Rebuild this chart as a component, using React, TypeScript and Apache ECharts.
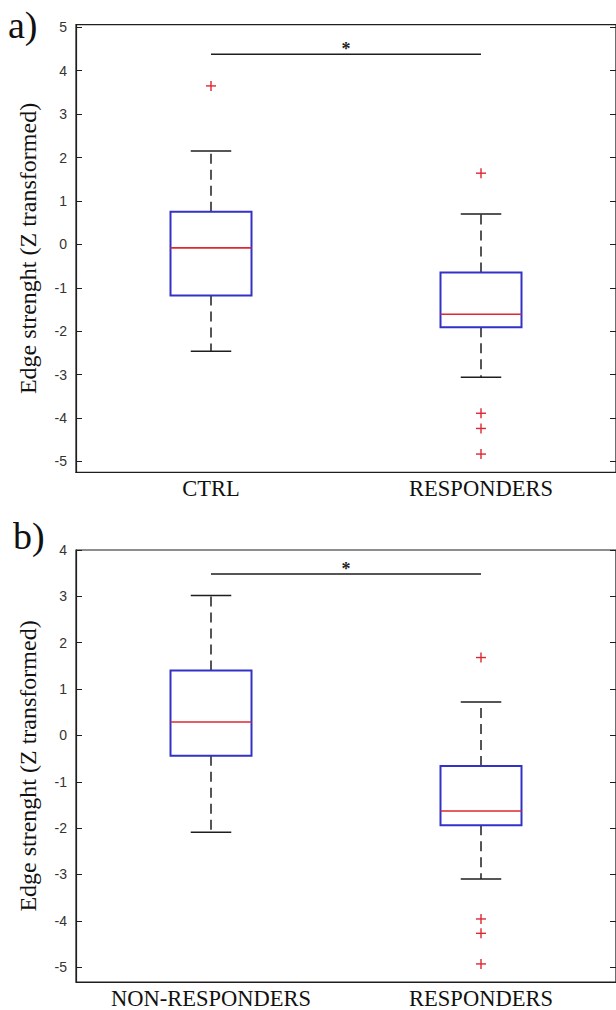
import React, { useEffect, useRef } from "react";
import * as echarts from "echarts";

// ---- data ----
const catsA = ["CTRL", "RESPONDERS"];
const catsB = ["NON-RESPONDERS", "RESPONDERS"];
// [categoryIndex, lowerWhisker, Q1, median, Q3, upperWhisker]
const boxA = [
  [0, -2.46, -1.18, -0.08, 0.75, 2.15],
  [1, -3.06, -1.91, -1.61, -0.65, 0.7],
];
const boxB = [
  [0, -2.09, -0.44, 0.29, 1.4, 3.02],
  [1, -3.1, -1.94, -1.63, -0.66, 0.72],
];
// [categoryIndex, value]
const outA = [
  [0, 3.65],
  [1, 1.64],
  [1, -3.89],
  [1, -4.24],
  [1, -4.83],
];
const outB = [
  [1, 1.68],
  [1, -3.96],
  [1, -4.27],
  [1, -4.93],
];
// significance bar [fromIndex, toIndex, y]
const sigA = [[0, 1, 4.38]];
const sigB = [[0, 1, 3.48]];
const ticksA = [-5, -4, -3, -2, -1, 0, 1, 2, 3, 4, 5];
const ticksB = [-5, -4, -3, -2, -1, 0, 1, 2, 3, 4];
const yLabel = "Edge strenght (Z transformed)";

const BLUE = "#3232c8";
const RED = "#dc2832";
const DARK = "#1e1e1e";
const SERIF = "'Liberation Serif', 'Times New Roman', serif";
const SANS = "'Liberation Sans', Arial, sans-serif";

const boxRender = (params: any, api: any) => {
  const i = api.value(0);
  const lo = api.value(1);
  const q1 = api.value(2);
  const med = api.value(3);
  const q3 = api.value(4);
  const hi = api.value(5);
  const band = api.size([1, 0])[0];
  const bw = band * 0.3;
  const cw = bw * 0.5;
  const x = api.coord([i, med])[0];
  const yLo = api.coord([i, lo])[1];
  const yQ1 = api.coord([i, q1])[1];
  const yMed = api.coord([i, med])[1];
  const yQ3 = api.coord([i, q3])[1];
  const yHi = api.coord([i, hi])[1];
  const dash = { stroke: DARK, lineWidth: 1.5, lineDash: [10, 6] };
  const solid = { stroke: DARK, lineWidth: 1.5 };
  return {
    type: "group",
    children: [
      { type: "line", shape: { x1: x, y1: yQ3, x2: x, y2: yHi }, style: dash },
      { type: "line", shape: { x1: x, y1: yQ1, x2: x, y2: yLo }, style: dash },
      { type: "line", shape: { x1: x - cw / 2, y1: yHi, x2: x + cw / 2, y2: yHi }, style: solid },
      { type: "line", shape: { x1: x - cw / 2, y1: yLo, x2: x + cw / 2, y2: yLo }, style: solid },
      {
        type: "rect",
        shape: { x: x - bw / 2, y: yQ3, width: bw, height: yQ1 - yQ3 },
        style: { fill: "none", stroke: BLUE, lineWidth: 2 },
      },
      {
        type: "line",
        shape: { x1: x - bw / 2, y1: yMed, x2: x + bw / 2, y2: yMed },
        style: { stroke: RED, lineWidth: 1.6 },
      },
    ],
  };
};

const outRender = (params: any, api: any) => {
  const p = api.coord([api.value(0), api.value(1)]);
  const s = 5;
  const st = { stroke: RED, lineWidth: 1.4 };
  return {
    type: "group",
    children: [
      { type: "line", shape: { x1: p[0] - s, y1: p[1], x2: p[0] + s, y2: p[1] }, style: st },
      { type: "line", shape: { x1: p[0], y1: p[1] - s, x2: p[0], y2: p[1] + s }, style: st },
    ],
  };
};

const sigRender = (params: any, api: any) => {
  const y = api.value(2);
  const p1 = api.coord([api.value(0), y]);
  const p2 = api.coord([api.value(1), y]);
  return {
    type: "group",
    children: [
      {
        type: "line",
        shape: { x1: p1[0], y1: p1[1], x2: p2[0], y2: p2[1] },
        style: { stroke: DARK, lineWidth: 1.5 },
      },
      {
        type: "text",
        x: (p1[0] + p2[0]) / 2,
        y: p1[1] - 5,
        style: {
          text: "*",
          fontFamily: SERIF,
          fontSize: 18,
          fontWeight: "bold",
          fill: DARK,
          align: "center",
          verticalAlign: "middle",
        },
      },
    ],
  };
};

const makeX = (gi: number, data: string[]) => ({
  type: "category",
  gridIndex: gi,
  data,
  boundaryGap: true,
  axisTick: { show: false },
  axisLine: { show: true, onZero: false, lineStyle: { color: DARK, width: 1.2 } },
  axisLabel: { fontFamily: SERIF, fontSize: 22.5, color: "#111", margin: 5 },
  splitLine: { show: false },
});

const makeY = (gi: number, min: number, max: number, ticks: number[], right: boolean) => ({
  type: "value",
  gridIndex: gi,
  position: right ? "right" : "left",
  min,
  max,
  name: right ? "" : yLabel,
  nameLocation: "middle",
  nameGap: 36,
  nameTextStyle: { fontFamily: SERIF, fontSize: 24, color: "#111" },
  axisLine: { show: true, onZero: false, lineStyle: { color: DARK, width: 1.2 } },
  axisTick: { show: true, inside: true, length: 6, customValues: ticks, lineStyle: { color: DARK } },
  axisLabel: right
    ? { show: false }
    : { show: true, customValues: ticks, fontFamily: SANS, fontSize: 14, color: "#333", margin: 9 },
  splitLine: { show: false },
});

export default function App() {
  const ref = useRef<HTMLDivElement>(null);
  useEffect(() => {
    if (!ref.current) return;
    const chart = echarts.init(ref.current, null, { renderer: "svg" });
    const option: any = {
      animation: false,
      backgroundColor: "#ffffff",
      grid: [
        { left: 76, width: 542, top: 24.7, bottom: 537.7, show: true, borderColor: DARK, borderWidth: 1.2, backgroundColor: "transparent" },
        { left: 76, width: 542, top: 550, bottom: 26.7, show: true, borderColor: DARK, borderWidth: 1.2, backgroundColor: "transparent" },
      ],
      xAxis: [makeX(0, catsA), makeX(1, catsB)],
      yAxis: [
        makeY(0, -5.25, 5.06, ticksA, false),
        makeY(1, -5.32, 4.0, ticksB, false),
        makeY(0, -5.25, 5.06, ticksA, true),
        makeY(1, -5.32, 4.0, ticksB, true),
      ],
      series: [
        { type: "custom", xAxisIndex: 0, yAxisIndex: 0, data: boxA, encode: { x: 0, y: [1, 2, 3, 4, 5] }, renderItem: boxRender },
        { type: "custom", xAxisIndex: 0, yAxisIndex: 0, data: outA, encode: { x: 0, y: 1 }, renderItem: outRender },
        { type: "custom", xAxisIndex: 0, yAxisIndex: 0, data: sigA, encode: { x: [0, 1], y: 2 }, renderItem: sigRender },
        { type: "custom", xAxisIndex: 1, yAxisIndex: 1, data: boxB, encode: { x: 0, y: [1, 2, 3, 4, 5] }, renderItem: boxRender },
        { type: "custom", xAxisIndex: 1, yAxisIndex: 1, data: outB, encode: { x: 0, y: 1 }, renderItem: outRender },
        { type: "custom", xAxisIndex: 1, yAxisIndex: 1, data: sigB, encode: { x: [0, 1], y: 2 }, renderItem: sigRender },
      ],
      graphic: [
        {
          type: "text",
          left: 8,
          top: 6,
          style: { text: "a)", fontFamily: SERIF, fontSize: 38, fill: "#111" },
        },
        {
          type: "text",
          left: 13,
          top: 517,
          style: { text: "b)", fontFamily: SERIF, fontSize: 38, fill: "#111" },
        },
      ],
    };
    chart.setOption(option);
    return () => chart.dispose();
  }, []);
  return (
    <div
      ref={ref}
      style={{ position: "absolute", left: 0, top: 0, width: 616, height: 1010, background: "#fff" }}
    />
  );
}
